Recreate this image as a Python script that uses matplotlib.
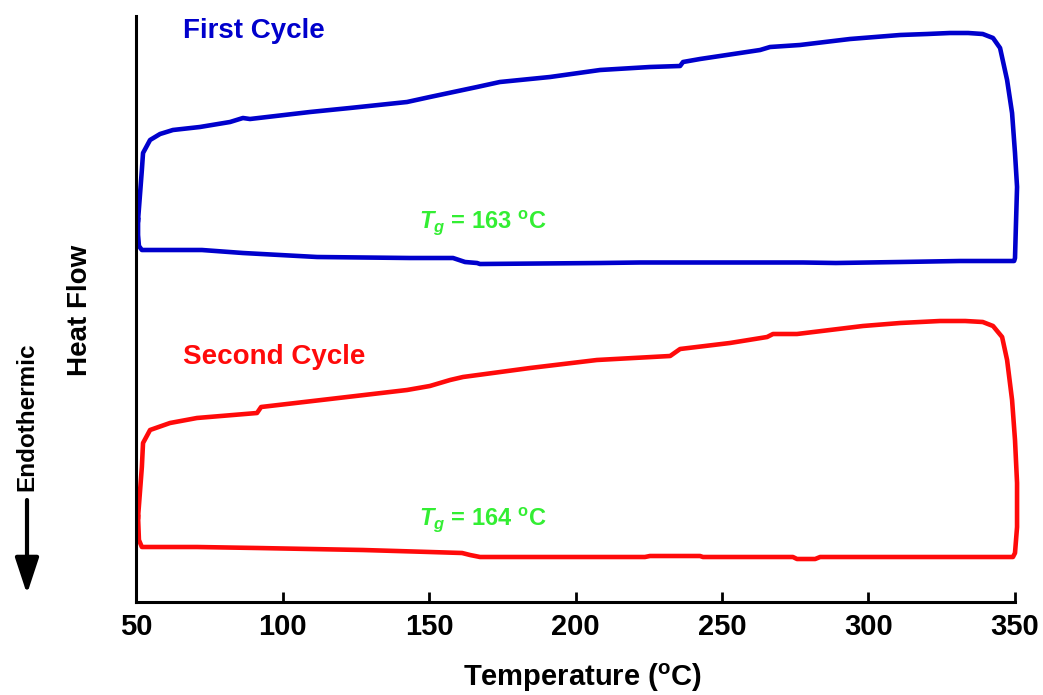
import matplotlib
matplotlib.use("Agg")
import matplotlib.pyplot as plt
from matplotlib.patches import FancyArrowPatch

plt.rcParams['mathtext.fontset'] = 'custom'
plt.rcParams['mathtext.rm'] = 'Liberation Sans:bold'
plt.rcParams['mathtext.bf'] = 'Liberation Sans:bold'
plt.rcParams['mathtext.it'] = 'Liberation Sans:italic:bold'

NARROW = ['Liberation Sans Narrow', 'Liberation Sans', 'DejaVu Sans']
REG = ['Liberation Sans', 'DejaVu Sans']

# ---- data: first cycle (heating then cooling) ----
first_heat_T = [50.7, 52.0, 52.4, 54.8, 58.2, 62.6, 71.8, 82.1, 86.5, 88.9, 109.4, 123.0,
                142.5, 150.3, 166.4, 174.2, 191.3, 208.4, 225.4, 235.7, 236.7, 242.5,
                263.0, 266.4, 276.6, 293.7, 310.8, 320.0, 327.8, 334.0, 339.0, 342.5, 344.9,
                347.3, 349.0, 350.0, 350.7, 350.3, 350.0, 349.7]
first_heat_HF = [3.82, 4.32, 4.49, 4.62, 4.68, 4.72, 4.75, 4.80, 4.84, 4.83, 4.90, 4.94,
                 5.00, 5.05, 5.15, 5.20, 5.25, 5.32, 5.35, 5.36, 5.40, 5.43,
                 5.52, 5.55, 5.57, 5.63, 5.67, 5.68, 5.69, 5.69, 5.68, 5.64, 5.54,
                 5.22, 4.89, 4.49, 4.15, 3.75, 3.44, 3.41]
first_cool_T = [349.7, 331.2, 310.8, 288.9, 277.6, 222.0, 208.4, 167.4, 166.4, 162.3,
                158.2, 143.5, 111.8, 86.5, 72.5, 59.2, 52.0, 51.0, 50.7, 50.7]
first_cool_HF = [3.41, 3.41, 3.40, 3.39, 3.395, 3.395, 3.39, 3.38, 3.39, 3.40,
                 3.44, 3.44, 3.45, 3.49, 3.52, 3.52, 3.52, 3.56, 3.67, 3.82]

# ---- data: second cycle ----
second_heat_T = [50.7, 52.0, 52.4, 54.8, 61.6, 70.8, 91.3, 92.7, 116.2, 142.5, 150.3,
                 157.2, 161.6, 184.5, 207.3, 232.3, 235.7, 252.7, 265.4, 267.4, 275.6,
                 298.1, 310.8, 324.4, 333.0, 339.0, 342.5, 345.6, 347.3, 349.0, 350.0, 350.7,
                 350.7, 350.0, 349.3]
second_heat_HF = [0.85, 1.35, 1.59, 1.72, 1.79, 1.84, 1.89, 1.95, 2.03, 2.12, 2.16,
                  2.22, 2.25, 2.34, 2.42, 2.46, 2.53, 2.59, 2.65, 2.68, 2.68,
                  2.76, 2.79, 2.81, 2.81, 2.80, 2.76, 2.65, 2.42, 2.02, 1.62, 1.19,
                  0.75, 0.49, 0.45]
second_cool_T = [349.3, 283.5, 281.8, 275.6, 274.2, 243.5, 242.5, 225.4, 223.7, 167.4,
                 164.0, 161.3, 150.3, 127.4, 91.3, 70.8, 52.0, 51.0, 50.7]
second_cool_HF = [0.45, 0.45, 0.43, 0.43, 0.45, 0.45, 0.46, 0.46, 0.45, 0.45,
                  0.47, 0.49, 0.50, 0.52, 0.54, 0.55, 0.55, 0.62, 0.85]

x_ticks = [50, 100, 150, 200, 250, 300, 350]
tg_values = [163, 164]

BLUE = '#0000cc'
RED = '#ff0a0a'
GREEN = '#33ee33'

fig = plt.figure(figsize=(10.43, 6.95), dpi=100)
ax = fig.add_axes([136/1043, 1-602/695, (1015-136)/1043, (602-16)/695])

ax.plot(first_heat_T + first_cool_T, first_heat_HF + first_cool_HF, color=BLUE, lw=3.3,
        clip_on=False, solid_joinstyle='round')
ax.plot(second_heat_T + second_cool_T, second_heat_HF + second_cool_HF, color=RED, lw=3.3,
        clip_on=False, solid_joinstyle='round')

ax.set_xlim(50, 350)
ax.set_ylim(0, 5.86)
ax.set_xticks(x_ticks)
ax.set_xticklabels([str(t) for t in x_ticks], family=NARROW, fontweight='bold', fontsize=21)
ax.set_yticks([])
for s in ['top', 'right']:
    ax.spines[s].set_visible(False)
for s in ['left', 'bottom']:
    ax.spines[s].set_linewidth(2.2)
ax.tick_params(axis='x', direction='in', length=7, width=2, pad=8)

ax.text(66.0, 5.71, 'First Cycle', color=BLUE, family=REG, fontweight='bold',
        fontsize=20, va='center', ha='left')
ax.text(66.0, 2.45, 'Second Cycle', color=RED, family=REG, fontweight='bold',
        fontsize=20, va='center', ha='left')
ax.text(146.5, 3.79, r'$T_g$ = %d $^\mathrm{o}$C' % tg_values[0], color=GREEN, family=REG,
        fontweight='bold', fontsize=17, va='center', ha='left')
ax.text(146.5, 0.82, r'$T_g$ = %d $^\mathrm{o}$C' % tg_values[1], color=GREEN, family=REG,
        fontweight='bold', fontsize=17, va='center', ha='left')

fig.text(583/1043, 1-678/695, r'Temperature ($^\mathrm{o}$C)', family=NARROW,
         fontweight='bold', fontsize=21, ha='center', va='center')
fig.text(80/1043, 1-310/695, 'Heat Flow', family=REG, fontweight='bold', fontsize=20,
         rotation=90, ha='center', va='center')
fig.text(27/1043, 1-417/695, 'Endothermic', family=REG, fontweight='bold', fontsize=17.5,
         rotation=90, ha='center', va='center')

arrow = FancyArrowPatch((27, 695-500), (27, 695-594), transform=None,
                        arrowstyle='-|>,head_length=1.0,head_width=0.33',
                        mutation_scale=22, lw=3.0, color='black',
                        shrinkA=0, shrinkB=0)
fig.patches.append(arrow)

fig.savefig('out.png', dpi=100)
